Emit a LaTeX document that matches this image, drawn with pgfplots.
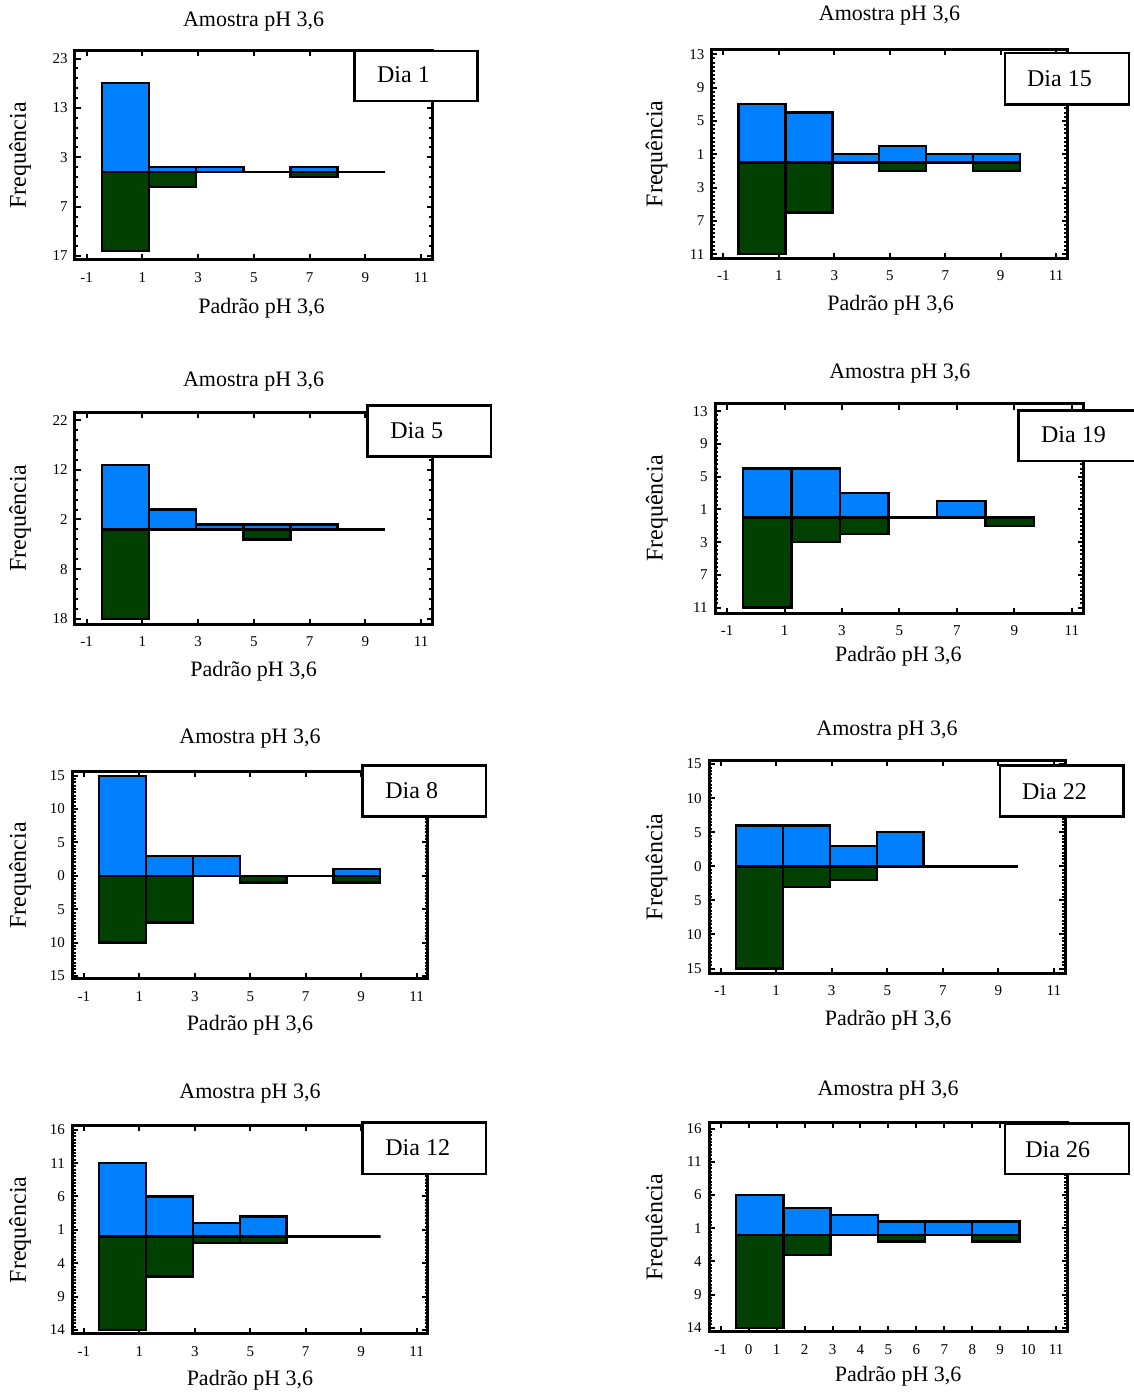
\documentclass[border=0pt]{standalone}
\usepackage{fontspec}
\setmainfont{Liberation Serif}
\usepackage{pgfplots}
\pgfplotsset{compat=1.18}
\usepackage{pgfplotstable}

\definecolor{amostra}{RGB}{0,128,255}
\definecolor{padrao}{RGB}{0,64,0}

% bin edges (6 classes), counts of the sample (up) and of the standard (down)
\pgfplotstableread{
edge amostra padrao
-0.45 18 16
1.24 1 3
2.93 1 0
4.62 0 0
6.31 1 1
8.00 0 0
9.69 0 0
}\tabUm
\pgfplotstableread{
edge amostra padrao
-0.45 7 11
1.24 6 6
2.93 1 0
4.62 2 1
6.31 1 0
8.00 1 1
9.69 0 0
}\tabQuinze
\pgfplotstableread{
edge amostra padrao
-0.45 13 18
1.24 4 0
2.93 1 0
4.62 1 2
6.31 1 0
8.00 0 0
9.69 0 0
}\tabCinco
\pgfplotstableread{
edge amostra padrao
-0.45 6 11
1.24 6 3
2.93 3 2
4.62 0 0
6.31 2 0
8.00 0 1
9.69 0 0
}\tabDezenove
\pgfplotstableread{
edge amostra padrao
-0.45 15 10
1.24 3 7
2.93 3 0
4.62 0 1
6.31 0 0
8.00 1 1
9.69 0 0
}\tabOito
\pgfplotstableread{
edge amostra padrao
-0.45 6 15
1.24 6 3
2.93 3 2
4.62 5 0
6.31 0 0
8.00 0 0
9.69 0 0
}\tabVinteDois
\pgfplotstableread{
edge amostra padrao
-0.45 11 14
1.24 6 6
2.93 2 1
4.62 3 1
6.31 0 0
8.00 0 0
9.69 0 0
}\tabDoze
\pgfplotstableread{
edge amostra padrao
-0.45 6 14
1.24 4 3
2.93 3 0
4.62 2 1
6.31 2 0
8.00 2 1
9.69 0 0
}\tabVinteSeis

\pgfplotsset{
  every axis title/.style={anchor=center},
  every axis x label/.style={anchor=center},
  every axis y label/.style={rotate=90, anchor=center},
  hist/.style={
    scale only axis,
    anchor=south west,
    xmin=-1.42, xmax=11.4,
    axis line style={line width=1.5pt},
    tick align=inside,
    major tick length=2.8pt,
    minor tick length=1.6pt,
    every tick/.append style={line width=1pt, black},
    xtick={-1,1,...,11},
    xticklabels={-1,1,3,5,7,9,11},
    ticklabel style={font=\fontsize{7.5}{9}\selectfont},
    xticklabel style={anchor=center, yshift=-8.8pt, inner sep=0pt},
    yticklabel style={anchor=east, xshift=-3.5pt, inner sep=0pt},
    title={Amostra pH 3,6},
    xlabel={Padrão pH 3,6},
    ylabel={Frequência},
    title style={font=\fontsize{11}{13}\selectfont},
    xlabel style={font=\fontsize{11}{13}\selectfont},
    ylabel style={font=\fontsize{12}{14}\selectfont},
  },
  up/.style={ybar interval, fill=amostra, draw=black, line width=1.2pt},
  down/.style={ybar interval, fill=padrao, draw=black, line width=1.2pt},
  zero/.style={black, line width=1.1pt},
}

\newcommand{\bars}[1]{%
  \addplot[up] table[x=edge, y=amostra] {#1};
  \addplot[down] table[x=edge, y expr=-\thisrow{padrao}] {#1};
  \addplot[zero] coordinates {(-0.45,0) (9.69,0)};
}

\begin{document}
\begin{tikzpicture}

% Dia 1
\begin{axis}[hist, at={(37.5pt,566.5pt)}, width=178.65pt, height=104.65pt,
  ymin=-17.8, ymax=24.6, ytick={-17,-7,3,13,23}, yticklabels={17,7,3,13,23},
  minor y tick num=4,
  title style={at={(0.5,1.139)}}, xlabel style={at={(0.522,-0.229)}},
  ylabel style={at={(-0.154,0.5)}}]
  \bars{\tabUm}
\end{axis}

% Dia 15
\begin{axis}[hist, at={(355.85pt,567.35pt)}, width=177.8pt, height=104.5pt,
  ymin=-11.5, ymax=13.6, ytick={-11,-7,-3,1,5,9,13}, yticklabels={11,7,3,1,5,9,13},
  minor y tick num=7,
  title style={at={(0.5,1.163)}}, xlabel style={at={(0.503,-0.223)}},
  ylabel style={at={(-0.155,0.5)}}]
  \bars{\tabQuinze}
\end{axis}

% Dia 5
\begin{axis}[hist, at={(37.5pt,384.35pt)}, width=178.65pt, height=105.8pt,
  ymin=-19.1, ymax=23.5, ytick={-18,-8,2,12,22}, yticklabels={18,8,2,12,22},
  minor y tick num=4,
  title style={at={(0.5,1.146)}}, xlabel style={at={(0.5,-0.224)}},
  ylabel style={at={(-0.154,0.5)}}]
  \bars{\tabCinco}
\end{axis}

% Dia 19
\begin{axis}[hist, at={(357.5pt,389.85pt)}, width=184.15pt, height=104.65pt,
  ymin=-11.7, ymax=13.9, ytick={-11,-7,-3,1,5,9,13}, yticklabels={11,7,3,1,5,9,13},
  minor y tick num=7,
  title style={at={(0.502,1.147)}}, xlabel style={at={(0.498,-0.207)}},
  ylabel style={at={(-0.158,0.5)}}]
  \bars{\tabDezenove}
\end{axis}

% Dia 8
\begin{axis}[hist, at={(36.15pt,207pt)}, width=177.7pt, height=103.65pt,
  ymin=-15.45, ymax=15.6, ytick={-15,-10,-5,0,5,10,15}, yticklabels={15,10,5,0,5,10,15},
  minor y tick num=9,
  title style={at={(0.5,1.161)}}, xlabel style={at={(0.5,-0.222)}},
  ylabel style={at={(-0.147,0.5)}}]
  \bars{\tabOito}
\end{axis}

% Dia 22
\begin{axis}[hist, at={(354.5pt,209.85pt)}, width=178pt, height=106.3pt,
  ymin=-15.7, ymax=15.5, ytick={-15,-10,-5,0,5,10,15}, yticklabels={15,10,5,0,5,10,15},
  minor y tick num=9,
  title style={at={(0.5,1.144)}}, xlabel style={at={(0.503,-0.22)}},
  ylabel style={at={(-0.147,0.5)}}]
  \bars{\tabVinteDois}
\end{axis}

% Dia 12
\begin{axis}[hist, at={(36.15pt,29.5pt)}, width=177.7pt, height=104.15pt,
  ymin=-14.6, ymax=16.6, ytick={-14,-9,-4,1,6,11,16}, yticklabels={14,9,4,1,6,11,16},
  minor y tick num=9,
  title style={at={(0.5,1.156)}}, xlabel style={at={(0.5,-0.221)}},
  ylabel style={at={(-0.147,0.5)}}]
  \bars{\tabDoze}
\end{axis}

% Dia 26
\begin{axis}[hist, at={(354.5pt,30.65pt)}, width=179.15pt, height=104.5pt,
  ymin=-14.6, ymax=16.9, ytick={-14,-9,-4,1,6,11,16}, yticklabels={14,9,4,1,6,11,16},
  minor y tick num=9,
  xtick={-1,0,...,11}, xticklabels={-1,0,1,2,3,4,5,6,7,8,9,10,11},
  title style={at={(0.5,1.156)}}, xlabel style={at={(0.528,-0.215)}},
  ylabel style={at={(-0.146,0.5)}}]
  \bars{\tabVinteSeis}
\end{axis}

% day boxes
\begin{scope}[x=0.5pt, y=-0.5pt, yshift=696.5pt,
  box/.style={line width=1.3pt, fill=white},
  lab/.style={anchor=west, inner sep=0pt, font=\fontsize{12}{14}\selectfont}]
  \draw[box] (354.3,51) rectangle (477.7,101);
  \node[lab] at (376.7,75) {Dia 1};
  \draw[box] (1005,53) rectangle (1129,104.3);
  \node[lab] at (1026.7,79) {Dia 15};
  \draw[box] (367.7,405.7) rectangle (491,456.7);
  \node[lab] at (390,430.7) {Dia 5};
  \draw[box] (1018.3,410.7) rectangle (1145,461);
  \node[lab] at (1040.7,435) {Dia 19};
  \draw[box] (362.7,765.7) rectangle (486,816.7);
  \node[lab] at (385,790.7) {Dia 8};
  \draw[box] (1000,765.7) rectangle (1123.3,816.7);
  \node[lab] at (1021.7,791.7) {Dia 22};
  \draw[box] (362.7,1122.7) rectangle (486,1174);
  \node[lab] at (385,1147.7) {Dia 12};
  \draw[box] (1005,1123.3) rectangle (1129,1174);
  \node[lab] at (1025,1150) {Dia 26};
\end{scope}

\pgfresetboundingbox
\path[use as bounding box] (0,0) rectangle (567pt,696.5pt);
\end{tikzpicture}
\end{document}
